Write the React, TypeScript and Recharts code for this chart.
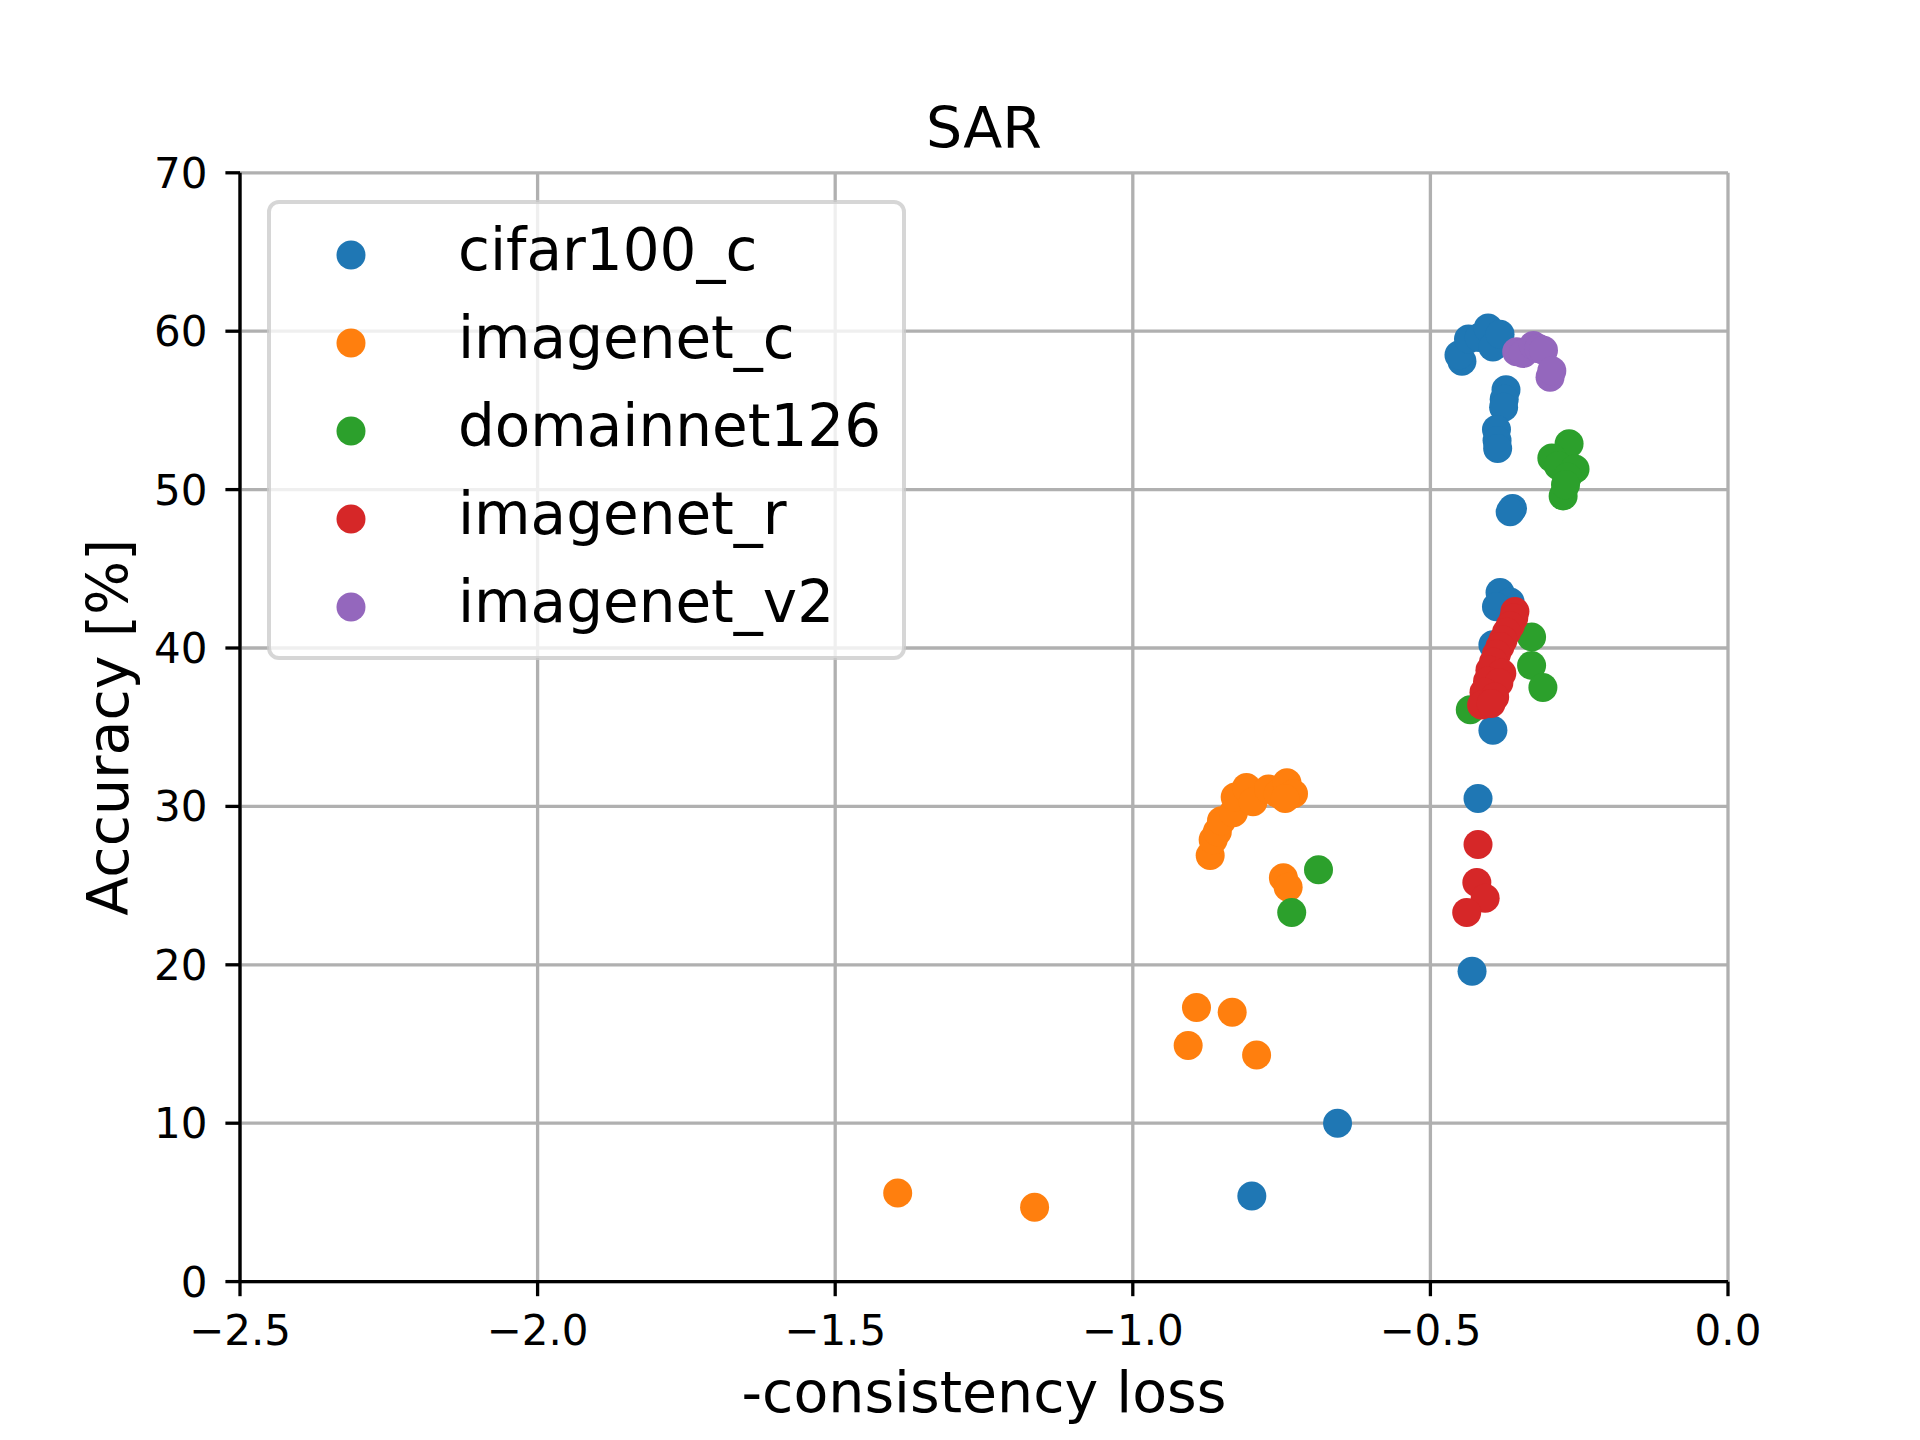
import { ScatterChart, Scatter, XAxis, YAxis, CartesianGrid, Legend } from 'recharts';

const FONT = "'DejaVu Sans', sans-serif";

const X_TICKS = [-2.5, -2.0, -1.5, -1.0, -0.5, 0.0];
const Y_TICKS = [0, 10, 20, 30, 40, 50, 60, 70];

const SERIES_NAMES = ['cifar100_c', 'imagenet_c', 'domainnet126', 'imagenet_r', 'imagenet_v2'];
const SERIES_COLORS = ['#1f77b4', '#ff7f0e', '#2ca02c', '#d62728', '#9467bd'];

const cifarX = [-0.447, -0.452, -0.436, -0.418, -0.403, -0.395, -0.383, -0.373, -0.376, -0.377, -0.389, -0.388, -0.387, -0.362, -0.366, -0.383, -0.366, -0.389, -0.395, -0.395, -0.420, -0.430, -0.656, -0.800];
const cifarY = [58.1, 58.5, 59.5, 59.6, 60.2, 59.0, 59.8, 56.3, 55.7, 55.2, 53.8, 53.1, 52.6, 48.8, 48.6, 43.5, 42.9, 42.6, 40.2, 34.8, 30.5, 19.6, 10.0, 5.4];

const imagenetCX = [-0.870, -0.865, -0.858, -0.851, -0.831, -0.828, -0.809, -0.798, -0.772, -0.756, -0.741, -0.730, -0.744, -0.747, -0.739, -0.893, -0.833, -0.907, -0.792, -1.395, -1.165];
const imagenetCY = [26.9, 27.9, 28.4, 29.1, 29.6, 30.6, 31.2, 30.3, 31.1, 30.8, 31.5, 30.8, 30.5, 25.5, 24.9, 17.3, 17.0, 14.9, 14.3, 5.6, 4.7];

const domainX = [-0.267, -0.296, -0.285, -0.257, -0.270, -0.277, -0.273, -0.330, -0.330, -0.311, -0.433, -0.688, -0.733];
const domainY = [52.9, 52.0, 51.5, 51.3, 50.8, 49.6, 50.3, 40.7, 38.9, 37.5, 36.1, 26.0, 23.3];

const imagenetRX = [-0.358, -0.360, -0.366, -0.372, -0.378, -0.383, -0.389, -0.394, -0.400, -0.380, -0.404, -0.385, -0.410, -0.392, -0.414, -0.398, -0.420, -0.422, -0.408, -0.439];
const imagenetRY = [42.3, 41.9, 41.4, 41.0, 40.5, 40.1, 39.6, 39.1, 38.6, 38.4, 37.9, 37.8, 37.2, 36.9, 36.4, 36.5, 27.6, 25.2, 24.2, 23.3];

const imagenetV2X = [-0.355, -0.344, -0.327, -0.318, -0.310, -0.299, -0.296];
const imagenetV2Y = [58.7, 58.6, 59.1, 58.9, 58.8, 57.1, 57.5];

const SERIES_X = [cifarX, imagenetCX, domainX, imagenetRX, imagenetV2X];
const SERIES_Y = [cifarY, imagenetCY, domainY, imagenetRY, imagenetV2Y];

function toPoints(xs: number[], ys: number[]) {
  return xs.map((x, i) => ({ x, y: ys[i] }));
}

function formatX(v: number): string {
  const s = Math.abs(v).toFixed(1);
  return v < 0 ? `\u2212${s}` : s;
}

// legend keeps the plotting order, not recharts' alphabetical order
function LegendBox() {
  return (
    <svg width={640} height={462} style={{ display: 'block' }}>
      <rect x={2} y={2} width={635} height={456} rx={10} ry={10}
        fill="#ffffff" fillOpacity={0.8} stroke="#cccccc" strokeOpacity={0.8} strokeWidth={4} />
      {SERIES_NAMES.map((name, i) => {
        const cy = 55 + i * 88;
        return (
          <g key={name}>
            <circle cx={84} cy={cy} r={14.5} fill={SERIES_COLORS[i]} />
            <text x={191} y={cy + 15} fontSize={58} fontFamily={FONT} fill="#000">{name}</text>
          </g>
        );
      })}
    </svg>
  );
}

export default function App() {
  return (
    <div style={{ position: 'absolute', left: 0, top: 0, width: 1920, height: 1440, background: '#fff' }}>
      <ScatterChart width={1920} height={1440} margin={{ top: 172.8, right: 192, bottom: 0, left: 0 }}>
        <CartesianGrid stroke="#b0b0b0" strokeWidth={3.3} />
        <XAxis
          type="number"
          dataKey="x"
          domain={[-2.5, 0]}
          ticks={X_TICKS}
          tickFormatter={formatX}
          height={158.4}
          tickSize={14.6}
          tickMargin={19}
          allowDataOverflow
          stroke="#000"
          axisLine={{ stroke: '#000', strokeWidth: 3.3 }}
          tickLine={{ stroke: '#000', strokeWidth: 3.3 }}
          tick={{ fill: '#000', fontSize: 42, fontFamily: FONT }}
          label={{
            content: ({ viewBox }: any) => {
              const cx = viewBox.x + viewBox.width / 2;
              return (
                <g>
                  <text x={cx} y={1412} textAnchor="middle" fontSize={57} fontFamily={FONT} fill="#000">
                    -consistency loss
                  </text>
                  <text x={cx} y={148} textAnchor="middle" fontSize={57} fontFamily={FONT} fill="#000">
                    SAR
                  </text>
                </g>
              );
            },
          }}
        />
        <XAxis
          xAxisId="top"
          orientation="top"
          type="number"
          domain={[-2.5, 0]}
          height={0}
          tick={false}
          tickLine={false}
          axisLine={{ stroke: '#000', strokeWidth: 3.3 }}
        />
        <YAxis
          type="number"
          dataKey="y"
          domain={[0, 70]}
          ticks={Y_TICKS}
          width={240}
          tickSize={14.6}
          tickMargin={18}
          allowDataOverflow
          axisLine={{ stroke: '#000', strokeWidth: 3.3 }}
          tickLine={{ stroke: '#000', strokeWidth: 3.3 }}
          tick={{ fill: '#000', fontSize: 42, fontFamily: FONT }}
          label={{
            content: ({ viewBox }: any) => {
              const cy = viewBox.y + viewBox.height / 2;
              return (
                <text x={128} y={cy} transform={`rotate(-90 128 ${cy})`} textAnchor="middle" fontSize={57} fontFamily={FONT} fill="#000">
                  Accuracy [%]
                </text>
              );
            },
          }}
        />
        <YAxis
          yAxisId="right"
          orientation="right"
          type="number"
          domain={[0, 70]}
          width={0}
          tick={false}
          tickLine={false}
          axisLine={{ stroke: '#000', strokeWidth: 3.3 }}
        />
        {SERIES_NAMES.map((name, i) => (
          <Scatter
            key={name}
            name={name}
            data={toPoints(SERIES_X[i], SERIES_Y[i])}
            fill={SERIES_COLORS[i]}
            isAnimationActive={false}
            shape={(p: any) => <circle cx={p.cx} cy={p.cy} r={14.5} fill={SERIES_COLORS[i]} />}
          />
        ))}
        <Legend
          layout="horizontal"
          verticalAlign="middle"
          align="center"
          content={<LegendBox />}
          wrapperStyle={{ left: 267, top: 200, width: 640, height: 462 }}
        />
      </ScatterChart>
    </div>
  );
}
